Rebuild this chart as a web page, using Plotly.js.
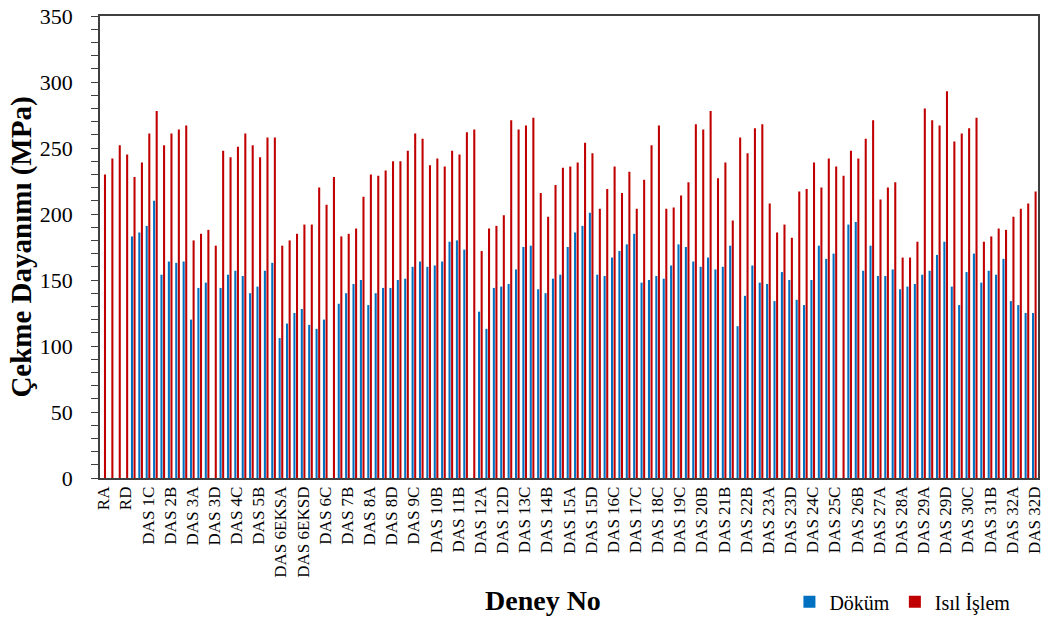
<!DOCTYPE html>
<html>
<head>
<meta charset="utf-8">
<script src="https://cdn.plot.ly/plotly-3.0.1.min.js"></script>
<style>html,body{margin:0;padding:0;background:#fff;}#chart{width:1043px;height:626px;}</style>
</head>
<body>
<div id="chart"></div>
<script>
const categories = [
  "RA","RB","RC","RD",
  "DAS 1A","DAS 1B","DAS 1C","DAS 1D",
  "DAS 2A","DAS 2B","DAS 2C","DAS 2D",
  "DAS 3A","DAS 3B","DAS 3C","DAS 3D",
  "DAS 4A","DAS 4B","DAS 4C","DAS 4D",
  "DAS 5A","DAS 5B","DAS 5C","DAS 5D",
  "DAS 6EKSA","DAS 6EKSB","DAS 6EKSC","DAS 6EKSD",
  "DAS 6A","DAS 6B","DAS 6C","DAS 6D",
  "DAS 7A","DAS 7B","DAS 7C","DAS 7D",
  "DAS 8A","DAS 8B","DAS 8C","DAS 8D",
  "DAS 9A","DAS 9B","DAS 9C","DAS 9D",
  "DAS 10A","DAS 10B","DAS 10C","DAS 10D",
  "DAS 11B","DAS 11C","DAS 11D",
  "DAS 12A","DAS 12B","DAS 12C","DAS 12D",
  "DAS 13A","DAS 13B","DAS 13C","DAS 13D",
  "DAS 14A","DAS 14B","DAS 14C","DAS 14D",
  "DAS 15A","DAS 15B","DAS 15C","DAS 15D",
  "DAS 16A","DAS 16B","DAS 16C","DAS 16D",
  "DAS 17A","DAS 17C","DAS 17D",
  "DAS 18A","DAS 18C","DAS 18D",
  "DAS 19A","DAS 19C","DAS 19D",
  "DAS 20A","DAS 20B","DAS 20C",
  "DAS 20D","DAS 21B","DAS 21C",
  "DAS 21D","DAS 22B","DAS 22C",
  "DAS 22D","DAS 23A","DAS 23B",
  "DAS 23C","DAS 23D","DAS 24A",
  "DAS 24B","DAS 24C","DAS 24D",
  "DAS 25A","DAS 25C","DAS 25D",
  "DAS 26A","DAS 26B","DAS 26C",
  "DAS 26D","DAS 27A","DAS 27B",
  "DAS 27C","DAS 28A","DAS 28B",
  "DAS 28C","DAS 29A","DAS 29B",
  "DAS 29C","DAS 29D","DAS 30A",
  "DAS 30B","DAS 30C","DAS 30D",
  "DAS 31A","DAS 31B","DAS 31C",
  "DAS 31D","DAS 32A","DAS 32B",
  "DAS 32C","DAS 32D"
];

const dokum = [
  null,null,null,null,
  183,186,191,210,
  154,164,163,164,
  120,144,148,null,
  144,154,157,153,
  140,145,157,163,
  106,117,125,128,
  116,113,120,null,
  132,140,147,150,
  131,140,144,144,
  150,151,160,164,
  160,161,164,179,
  180,173,null,
  126,113,144,145,
  147,158,175,176,
  143,140,151,154,
  175,186,191,201,
  154,153,167,172,
  177,185,148,
  150,153,151,
  161,177,175,
  164,160,167,
  158,160,176,
  115,138,161,
  148,147,134,
  156,150,135,
  131,150,176,
  166,170,null,
  192,194,157,
  176,153,153,
  158,143,145,
  147,154,157,
  169,179,145,
  131,156,170,
  148,157,154,
  166,134,131,
  125,125
];

const isil = [
  230,242,252,245,
  228,239,261,278,
  252,261,264,267,
  180,185,188,176,
  248,243,251,261,
  252,243,258,258,
  176,180,185,192,
  192,220,207,228,
  183,185,189,213,
  230,229,233,240,
  240,248,261,257,
  237,242,236,248,
  245,262,264,
  172,189,191,199,
  271,264,267,273,
  216,198,222,235,
  236,239,254,246,
  204,219,236,216,
  232,204,226,
  252,267,204,
  205,214,224,
  268,264,278,
  227,239,195,
  258,246,265,
  268,208,186,
  192,182,217,
  219,239,220,
  242,236,229,
  248,242,257,
  271,211,220,
  224,167,167,
  179,280,271,
  267,293,255,
  261,265,273,
  179,183,189,
  188,198,204,
  208,217
];

const tickLabels = categories.filter((c, i) => i % 3 === 0);

const serif = "Liberation Serif, Times New Roman, serif";

const traces = [
  {
    type: "bar",
    name: "Döküm",
    x: categories,
    y: dokum,
    marker: { color: "#0070C0" }
  },
  {
    type: "bar",
    name: "Isıl İşlem",
    x: categories,
    y: isil,
    marker: { color: "#C00000" }
  }
];

const layout = {
  width: 1043,
  height: 626,
  margin: { l: 100, r: 5, t: 16, b: 145, pad: 0 },
  paper_bgcolor: "#ffffff",
  plot_bgcolor: "#ffffff",
  barmode: "group",
  bargap: 0.3,
  bargroupgap: 0.2,
  font: { family: serif, color: "#000000" },
  xaxis: {
    type: "category",
    tickmode: "array",
    tickvals: tickLabels,
    ticktext: tickLabels,
    tickangle: -90,
    tickfont: { family: serif, size: 17, color: "#000000" },
    showline: true,
    linecolor: "#3f3f3f",
    linewidth: 1.5,
    mirror: true,
    ticks: "",
    showgrid: false,
    zeroline: false,
    automargin: false
  },
  yaxis: {
    range: [0, 350],
    tickmode: "linear",
    tick0: 0,
    dtick: 50,
    ticks: "outside",
    ticklen: 7,
    tickwidth: 1.2,
    tickcolor: "#3f3f3f",
    minor: { dtick: 10, ticks: "outside", ticklen: 7, tickwidth: 1.2, tickcolor: "#3f3f3f", showgrid: false },
    ticklabelstandoff: 14,
    tickfont: { family: serif, size: 22, color: "#000000" },
    showline: true,
    linecolor: "#3f3f3f",
    linewidth: 1.5,
    mirror: true,
    showgrid: false,
    zeroline: false,
    automargin: false,
    title: {
      text: "Çekme Dayanımı (MPa)",
      font: { family: serif, size: 29, weight: "bold", color: "#000000" },
      standoff: 0
    }
  },
  legend: {
    orientation: "h",
    x: 0.735,
    xanchor: "left",
    y: -0.268,
    yanchor: "middle",
    font: { family: serif, size: 20, color: "#000000" },
    itemwidth: 30,
    bgcolor: "rgba(0,0,0,0)"
  },
  annotations: [
    {
      text: "Deney No",
      xref: "paper",
      yref: "paper",
      x: 0.4725,
      y: -0.266,
      xanchor: "center",
      yanchor: "middle",
      showarrow: false,
      font: { family: serif, size: 28, weight: "bold", color: "#000000" }
    }
  ]
};

Plotly.newPlot("chart", traces, layout, { displayModeBar: false, responsive: false });
</script>
</body>
</html>
